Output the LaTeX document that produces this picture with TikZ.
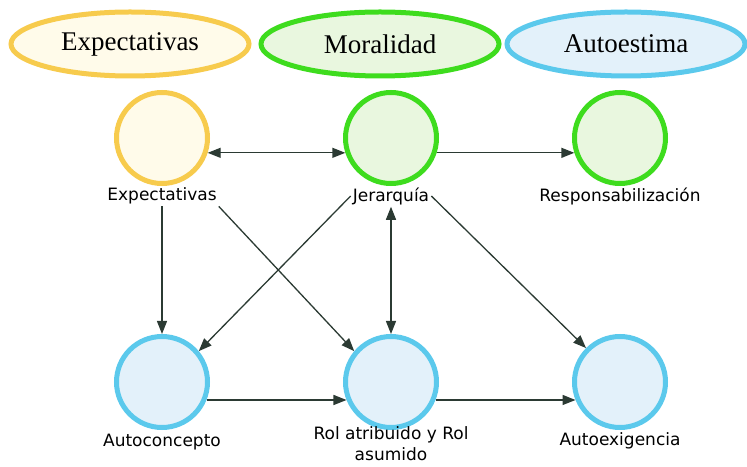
\documentclass[tikz,border=0pt]{standalone}
\usepackage{fontspec}
\setmainfont{Liberation Serif}
\newfontfamily\labelfont{DejaVu Sans}
\usepackage{tikz}
\usetikzlibrary{arrows.meta,shapes,positioning}

\definecolor{goldline}{HTML}{F7CB4D}
\definecolor{goldfill}{HTML}{FFFBEA}
\definecolor{greenline}{HTML}{3EDC1E}
\definecolor{greenfill}{HTML}{E9F7DF}
\definecolor{blueline}{HTML}{5BC9EC}
\definecolor{bluefill}{HTML}{E3F1FA}
\definecolor{linkcol}{HTML}{2B3A33}

\begin{document}
\begin{tikzpicture}[x=1pt,y=1pt,node distance=229pt,
        >={Triangle[length=13pt,width=10pt]},
        cat/.style={ellipse,line width=5pt,minimum width=238pt,minimum height=64pt,font=\fontsize{27}{30}\selectfont},
        blob/.style={ellipse,line width=5pt,minimum width=91pt,minimum height=91pt},
        lbl/.style={font=\labelfont\fontsize{17}{21}\selectfont,align=center,inner sep=2pt},
        link/.style={draw=linkcol,line width=1.3pt}]
        \useasboundingbox (0,0) rectangle (747,466);

        \node[cat,draw=goldline,fill=goldfill] (catexp) at (130,422) {Expectativas};
        \node[cat,draw=greenline,fill=greenfill] (catmor) at (380,422) {Moralidad};
        \node[cat,draw=blueline,fill=bluefill] (cataut) at (626,422) {Autoestima};

        \node[blob,draw=goldline,fill=goldfill] (cexp) at (162,328) {};
        \node[blob,draw=greenline,fill=greenfill,right of=cexp] (cjer) {};
        \node[blob,draw=greenline,fill=greenfill,right of=cjer] (cresp) {};
        \node[blob,draw=blueline,fill=bluefill,below of=cexp,node distance=244pt] (cconc) {};
        \node[blob,draw=blueline,fill=bluefill,below of=cjer,node distance=244pt] (crol) {};
        \node[blob,draw=blueline,fill=bluefill,below of=cresp,node distance=244pt] (cexig) {};

        \node[lbl,below of=cexp,node distance=58pt] (lexp) {Expectativas};
        \node[lbl,below of=cjer,node distance=58pt] (ljer) {Jerarquía};
        \node[lbl,below of=cresp,node distance=58pt] (lresp) {Responsabilización};
        \node[lbl,below of=cconc,node distance=60pt] (lconc) {Autoconcepto};
        \node[lbl,below of=crol,node distance=62pt] (lrol) {Rol atribuido y Rol\\asumido};
        \node[lbl,below of=cexig,node distance=59pt] (lexig) {Autoexigencia};

        \draw[link,<->] (cexp.-18) -- (cjer.198);
        \draw[link,->] (cjer.-18) -- (cresp.198);
        \draw[link,->] (lexp) -- (cconc);
        \draw[link,->] (lexp.south east) -- (crol.140);
        \draw[link,->] (ljer.west) -- (cconc.40);
        \draw[link,<->] (ljer) -- (crol);
        \draw[link,->] (ljer.east) -- (cexig.135);
        \draw[link,->] (cconc.-22) -- (crol.202);
        \draw[link,->] (crol.-22) -- (cexig.202);
    \end{tikzpicture}
\end{document}
